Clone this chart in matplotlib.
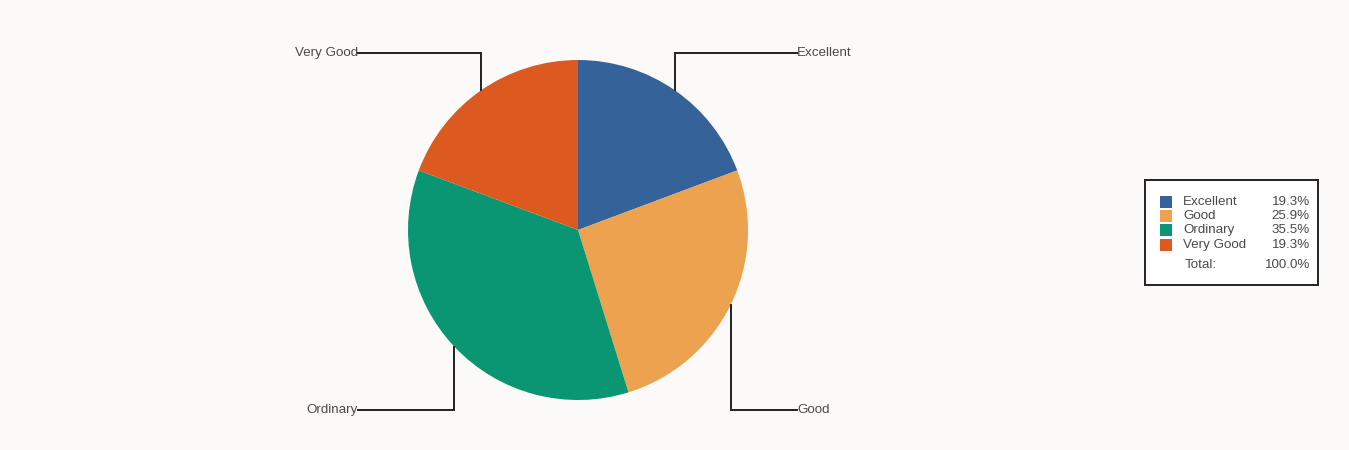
import numpy as np
import matplotlib
matplotlib.use("Agg")
import matplotlib.pyplot as plt
from matplotlib.patches import Rectangle

categories = ["Excellent", "Good", "Ordinary", "Very Good"]
shares = [19.3, 25.9, 35.5, 19.3]
colors = ["#36629a", "#eca24f", "#0b9673", "#dc5a1f"]
total_label = "Total:"
total_value = "100.0%"

W, H = 1349, 450
bg = "#fbfaf8"
fig = plt.figure(figsize=(W / 100, H / 100), dpi=100, facecolor=bg)
ax = fig.add_axes([0, 0, 1, 1])
ax.set_facecolor(bg)

cx, cy, r = 578, H - 230, 170
wedges, _ = ax.pie(shares, colors=colors, startangle=90, counterclock=False,
                   center=(cx, cy), radius=r, frame=True,
                   wedgeprops=dict(linewidth=0))
ax.set_xlim(0, W)
ax.set_ylim(0, H)
ax.set_aspect("equal")
ax.axis("off")

font = dict(family=["Liberation Sans", "DejaVu Sans"], fontsize=9.6, color="#4a4a4a")
top_y, bot_y = H - 53, H - 410
right_x, left_x = 797, 358
for w, name in zip(wedges, categories):
    th = np.deg2rad((w.theta1 + w.theta2) / 2)
    px, py = cx + r * np.cos(th), cy + r * np.sin(th)
    ly = top_y if np.sin(th) > 0 else bot_y
    lx = right_x if np.cos(th) > 0 else left_x
    ax.plot([px, px, lx], [py, ly, ly], color="#222222", lw=1.4, solid_joinstyle="miter")
    ax.text(lx, ly, name, ha="left" if lx > cx else "right", va="center", **font)

# legend
lx0, ly0, lw_, lh_ = 1145, H - 285, 173, 105
ax.add_patch(Rectangle((lx0, ly0), lw_, lh_, facecolor="white", edgecolor="#222222", lw=1.4))
row_y = [202, 216, 230, 245]
for yy, name, val, c in zip(row_y, categories, shares, colors):
    ax.add_patch(Rectangle((1160, H - yy - 6), 12, 12, facecolor=c, edgecolor="none"))
    ax.text(1183, H - yy, name, ha="left", va="center", **font)
    ax.text(1310, H - yy, f"{val:.1f}%", ha="right", va="center", **font)
ax.text(1185, H - 265, total_label, ha="left", va="center", **font)
ax.text(1310, H - 265, total_value, ha="right", va="center", **font)

fig.savefig("out.png", dpi=100, facecolor=bg)
